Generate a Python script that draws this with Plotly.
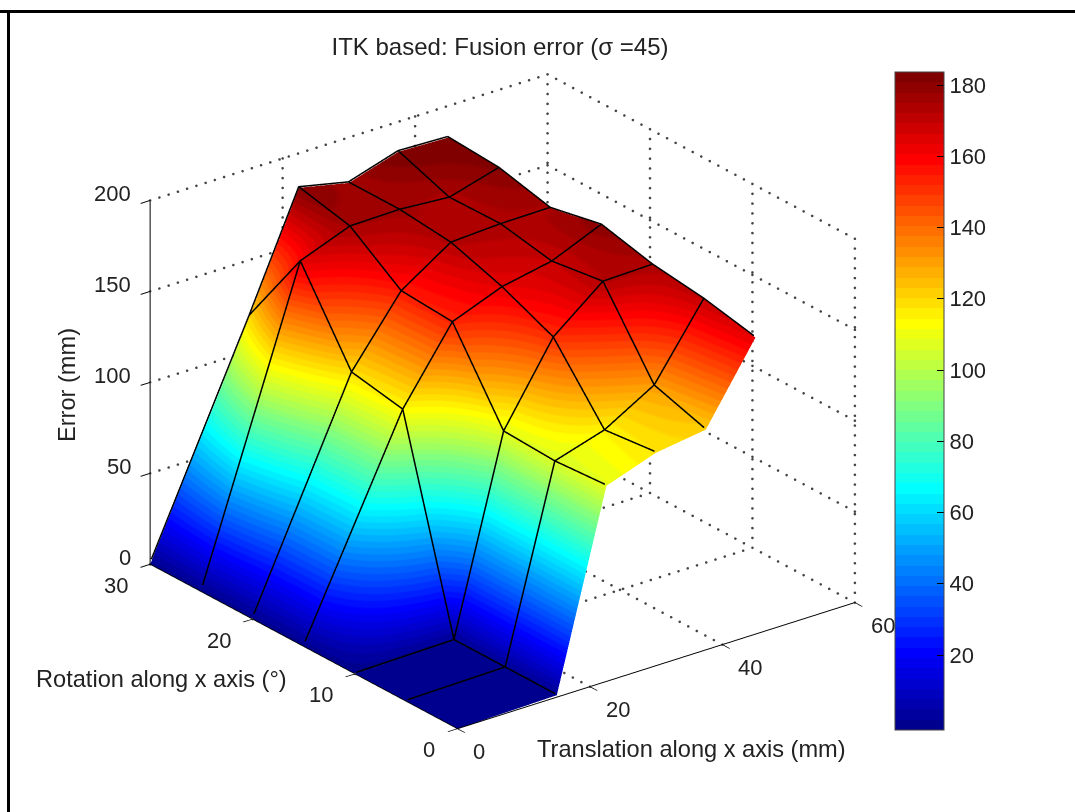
import plotly.graph_objects as go
import numpy as np

# Data
translation = [0, 15, 22.5, 30, 37.5, 45]
rotation = [0, 5, 10, 15, 20, 25, 30]
# error[row for rotation][column for translation]
error_r0 = [0, 1, 107.5, 117, 121, 163]
error_r5 = [0, 1, 105.6, 114, 130, 169]
error_r10 = [0, 1, 107, 150, 172, 172.7]
error_r15 = [0, 112.6, 152, 162.6, 168, 179.6]
error_r20 = [0, 118, 154, 172, 173.5, 173.8]
error_r25 = [0, 164, 174.5, 175, 173, 180.7]
error_r30 = [0, 119, 181, 175, 183.5, 182.6]
error = [error_r0, error_r5, error_r10, error_r15, error_r20, error_r25, error_r30]

x_ticks = [0, 20, 40, 60]
y_ticks = [0, 10, 20, 30]
z_ticks = [0, 50, 100, 150, 200]
cbar_ticks = [20, 40, 60, 80, 100, 120, 140, 160, 180]
X_MAX, Y_MAX, Z_MAX = 60, 30, 200
C_MIN, C_MAX = -1.05, 183.65

FONT = "Liberation Sans"
TEXT = "#222222"
W, H = 1075, 812
CB_TOP, CB_BOTTOM, CB_LEFT, CB_WIDTH = 72, 730, 895, 49
TICK_SIZE = 22
LABEL_SIZE = 23.6
SCALE = 1.237
LIFT = (-0.25, -0.12, 1.2)


def jet_scale(n=64):
    out = []
    for i in range(n):
        t = (i + 1) / n
        c = [max(0, min(1, 1.5 - abs(4 * t - k))) for k in (3, 2, 1)]
        col = "rgb(%d,%d,%d)" % tuple(round(v * 255) for v in c)
        out.append([i / n, col])
        out.append([(i + 1) / n, col])
    return out


fig = go.Figure()

fig.add_trace(go.Surface(
    x=translation, y=rotation, z=error,
    colorscale=jet_scale(), cmin=C_MIN, cmax=C_MAX,
    lighting=dict(ambient=1, diffuse=0, specular=0, roughness=1, fresnel=0),
    hoverinfo="skip",
    colorbar=dict(
        x=CB_LEFT / W, xanchor="left", xpad=0, ypad=0,
        y=1 - (CB_TOP + CB_BOTTOM) / 2 / H, yanchor="middle",
        len=(CB_BOTTOM - CB_TOP) / H, lenmode="fraction",
        thickness=CB_WIDTH, thicknessmode="pixels",
        outlinecolor="#444444", outlinewidth=1,
        tickvals=cbar_ticks, ticks="inside", ticklen=7, tickcolor="black",
        tickfont=dict(family=FONT, size=TICK_SIZE, color=TEXT),
    ),
))

# Surface edge lines, nudged toward the camera so they stay in front of the surface
lx, ly, lz = [], [], []
for i, r in enumerate(rotation):
    for j, t in enumerate(translation):
        lx.append(t + LIFT[0]); ly.append(r + LIFT[1]); lz.append(error[i][j] + LIFT[2])
    lx.append(None); ly.append(None); lz.append(None)
for j, t in enumerate(translation):
    for i, r in enumerate(rotation):
        lx.append(t + LIFT[0]); ly.append(r + LIFT[1]); lz.append(error[i][j] + LIFT[2])
    lx.append(None); ly.append(None); lz.append(None)
fig.add_trace(go.Scatter3d(x=lx, y=ly, z=lz, mode="lines",
                           line=dict(color="black", width=3),
                           hoverinfo="skip", showlegend=False))

# Dotted grid on floor and back walls (left out where a solid axis line runs)
gx, gy, gz = [], [], []
def seg(a, b, n):
    gx.extend(np.linspace(a[0], b[0], n).tolist())
    gy.extend(np.linspace(a[1], b[1], n).tolist())
    gz.extend(np.linspace(a[2], b[2], n).tolist())
NX, NY, NZ = 44, 37, 38
for t in x_ticks:
    if t > 0:
        seg((t, 0, 0), (t, Y_MAX, 0), NY)
        seg((t, Y_MAX, 0), (t, Y_MAX, Z_MAX), NZ)
for r in y_ticks:
    if r > 0:
        seg((0, r, 0), (X_MAX, r, 0), NX)
    seg((X_MAX, r, 0), (X_MAX, r, Z_MAX), NZ)
for v in z_ticks:
    if v > 0:
        seg((0, Y_MAX, v), (X_MAX, Y_MAX, v), NX)
        seg((X_MAX, Y_MAX, v), (X_MAX, 0, v), NY)
fig.add_trace(go.Scatter3d(x=gx, y=gy, z=gz, mode="markers",
                           marker=dict(color="#444444", size=1.5, line=dict(width=0)),
                           hoverinfo="skip", showlegend=False))

axis_common = dict(
    showbackground=False, showgrid=False, zeroline=False, showspikes=False,
    showline=True, linecolor="black", linewidth=2,
    ticks="outside", ticklen=12, tickcolor="black", tickwidth=2,
    showticklabels=False, title=dict(text=""),
)

tick_font = dict(family=FONT, size=TICK_SIZE, color=TEXT)
scene_notes = []
for v in z_ticks:
    scene_notes.append(dict(x=0, y=Y_MAX, z=v, text=str(v), showarrow=False, xanchor="right",
                            xshift=-17, yshift=7, font=tick_font))
for v in y_ticks:
    scene_notes.append(dict(x=0, y=v, z=0, text=str(v), showarrow=False, xanchor="right",
                            xshift=-20, yshift=-21, font=tick_font))
for v in x_ticks:
    scene_notes.append(dict(x=v, y=0, z=0, text=str(v), showarrow=False, xanchor="left",
                            xshift=14, yshift=-23, font=tick_font))

label_font = dict(family=FONT, size=LABEL_SIZE, color=TEXT)
left_ticks = [
    dict(type="line", xref="paper", yref="paper",
         x0=CB_LEFT / W, x1=(CB_LEFT + 7) / W,
         y0=1 - (CB_TOP + (C_MAX - v) / (C_MAX - C_MIN) * (CB_BOTTOM - CB_TOP)) / H,
         y1=1 - (CB_TOP + (C_MAX - v) / (C_MAX - C_MIN) * (CB_BOTTOM - CB_TOP)) / H,
         line=dict(color="black", width=1))
    for v in cbar_ticks
]

fig.update_layout(
    width=W, height=H,
    margin=dict(l=0, r=0, t=0, b=0),
    paper_bgcolor="white",
    showlegend=False,
    title=dict(text="ITK based: Fusion error (σ =45)", x=500 / W, xanchor="center",
               y=1 - 47 / H, yanchor="middle", font=dict(family=FONT, size=24, color=TEXT)),
    scene=dict(
        domain=dict(x=[0, 1005 / W], y=[9 / H, 1]),
        xaxis=dict(axis_common, range=[0, X_MAX], tickvals=x_ticks),
        yaxis=dict(axis_common, range=[0, Y_MAX], tickvals=y_ticks),
        zaxis=dict(axis_common, range=[0, Z_MAX], tickvals=z_ticks),
        aspectmode="manual",
        aspectratio=dict(x=1.01 * SCALE, y=1.014 * SCALE, z=0.804 * SCALE),
        camera=dict(
            projection=dict(type="orthographic"),
            up=dict(x=0, y=0, z=1),
            center=dict(x=0, y=0, z=0),
            eye=dict(x=-0.5546 * 2, y=-0.72 * 2, z=0.411 * 2),
        ),
        annotations=scene_notes,
    ),
    annotations=[
        dict(text="Rotation along x axis (°)", x=161 / W, y=1 - 679 / H, xref="paper", yref="paper",
             showarrow=False, xanchor="center", yanchor="middle", font=label_font),
        dict(text="Translation along x axis (mm)", x=691 / W, y=1 - 749 / H, xref="paper", yref="paper",
             showarrow=False, xanchor="center", yanchor="middle", font=label_font),
        dict(text="Error (mm)", x=67 / W, y=1 - 385 / H, xref="paper", yref="paper", textangle=-90,
             showarrow=False, xanchor="center", yanchor="middle", font=label_font),
    ],
    shapes=[
        dict(type="line", xref="paper", yref="paper", x0=0, x1=1, y0=1 - 11.5 / H, y1=1 - 11.5 / H,
             line=dict(color="black", width=3)),
        dict(type="line", xref="paper", yref="paper", x0=8.5 / W, x1=8.5 / W, y0=0, y1=1 - 11.5 / H,
             line=dict(color="black", width=3)),
    ] + left_ticks,
)

fig.write_html("out.html", config=dict(displayModeBar=False),
               post_script="document.body.style.margin='0';document.documentElement.style.overflow='hidden';")
